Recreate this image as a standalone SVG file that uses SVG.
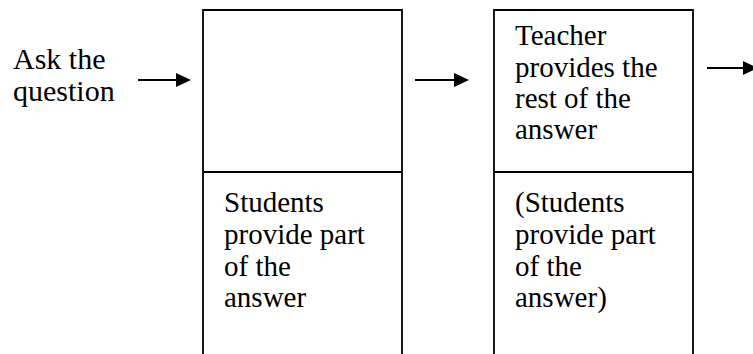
<svg xmlns="http://www.w3.org/2000/svg" width="753" height="354" viewBox="0 0 753 354">
<style>
.t{font-family:"Liberation Serif","Times New Roman",serif;font-size:29px;fill:#000}
.w{font-size:30px}
.b{fill:none;stroke:#000;stroke-width:1.8}
.c{stroke:#000;stroke-width:2;fill:none}
</style>
<defs>
<marker id="ah" markerUnits="userSpaceOnUse" markerWidth="15" markerHeight="14" refX="0" refY="7" orient="auto">
<path d="M0,0 L15,7 L0,14 Z" fill="#000"/>
</marker>
</defs>
<rect width="753" height="354" fill="#fff"/>
<g id="start">
<text class="t w" x="13" y="69">Ask the</text>
<text class="t w" x="13" y="101">question</text>
</g>
<g id="box1">
<path class="b" d="M203,360 V10 H402 V360 M203,172 H402"/>
<text class="t" x="224" y="212">Students</text>
<text class="t" x="224" y="244">provide part</text>
<text class="t" x="224" y="276">of the</text>
<text class="t" x="224" y="307">answer</text>
</g>
<g id="box2">
<path class="b" d="M494,360 V10 H693 V360 M494,172 H693"/>
<text class="t" x="515" y="45">Teacher</text>
<text class="t" x="515" y="77">provides the</text>
<text class="t" x="515" y="108">rest of the</text>
<text class="t" x="515" y="139">answer</text>
<text class="t" x="515" y="212">(Students</text>
<text class="t" x="515" y="244">provide part</text>
<text class="t" x="515" y="276">of the</text>
<text class="t" x="515" y="307">answer)</text>
</g>
<g id="connectors">
<line class="c" x1="138" y1="80" x2="176" y2="80" marker-end="url(#ah)"/>
<line class="c" x1="415" y1="80" x2="454" y2="80" marker-end="url(#ah)"/>
<line class="c" x1="707" y1="68" x2="743" y2="68" marker-end="url(#ah)"/>
</g>
</svg>
